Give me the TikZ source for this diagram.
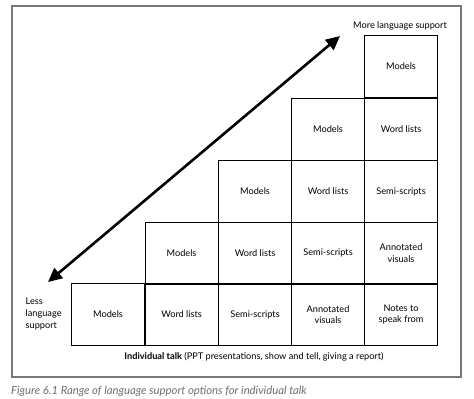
\documentclass[tikz,border=0pt]{standalone}
\usepackage{fontspec}
\setmainfont{Lato}
\usetikzlibrary{arrows.meta}
\definecolor{framegray}{RGB}{120,120,120}
\definecolor{capgray}{RGB}{110,110,110}
\tikzset{
  cell/.style={draw=black, line width=1.1pt, minimum width=73pt, minimum height=62pt, inner sep=0pt, align=center, font=\fontsize{9.2}{11.2}\selectfont, anchor=north west},
  lbl/.style={font=\fontsize{9.2}{11.2}\selectfont, inner sep=0pt},
}
\begin{document}
\begin{tikzpicture}[x=1pt,y=-1pt]
\useasboundingbox (0,0) rectangle (474,399);
\draw[framegray, line width=1.3pt] (12,6) rectangle (461,377);
\node[cell] (r5c5) at (364,35) {Models};
\node[cell] (r4c4) at (291,97.5) {Models};
\node[cell] (r4c5) at (364,97.5) {Word lists};
\node[cell] (r3c3) at (218,160) {Models};
\node[cell] (r3c4) at (291,160) {Word lists};
\node[cell] (r3c5) at (364,160) {Semi-scripts};
\node[cell] (r2c2) at (144.5,221.5) {Models};
\node[cell] (r2c3) at (218,221.5) {Word lists};
\node[cell] (r2c4) at (291,221.5) {Semi-scripts};
\node[cell] (r2c5) at (364,221.5) {Annotated\\visuals};
\node[cell] (r1c1) at (71,283) {Models};
\node[cell] (r1c2) at (144.5,283) {Word lists};
\node[cell] (r1c3) at (218,283) {Semi-scripts};
\node[cell] (r1c4) at (291,283) {Annotated\\visuals};
\node[cell] (r1c5) at (364,283) {Notes to\\speak from};
\node[lbl] (more) at (400,26) {More language support};
\node[lbl, align=left, anchor=west, font=\fontsize{9.2}{11.8}\selectfont] (less) at (25.5,314) {Less\\language\\support};
\node[lbl] (talk) at (254,357) {\textbf{Individual talk} (PPT presentations, show and tell, giving a report)};
\node[lbl, anchor=west, text=capgray, font=\itshape\fontsize{11.3}{13}\selectfont] (cap) at (11,391.5) {Figure 6.1 Range of language support options for individual talk};
\coordinate (lo) at (48,282);
\coordinate (hi) at (340,36);
\draw[line width=2.6pt, {Triangle[length=14pt,width=13pt]}-{Triangle[length=14pt,width=13pt]}] (lo) -- (hi);
\end{tikzpicture}
\end{document}
